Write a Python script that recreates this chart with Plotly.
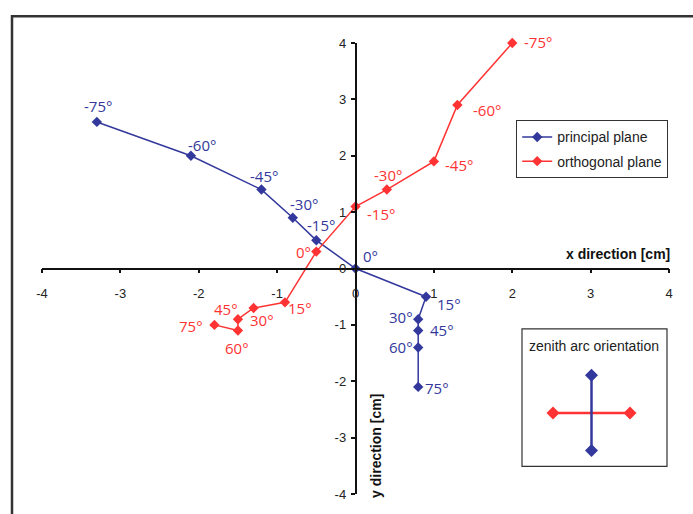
import plotly.graph_objects as go

# ---- data ----
angles = [-75, -60, -45, -30, -15, 0, 15, 30, 45, 60, 75]
principal_x = [-3.3, -2.1, -1.2, -0.8, -0.5, 0.0, 0.9, 0.8, 0.8, 0.8, 0.8]
principal_y = [2.6, 2.0, 1.4, 0.9, 0.5, 0.0, -0.5, -0.9, -1.1, -1.4, -2.1]
orthogonal_x = [2.0, 1.3, 1.0, 0.4, 0.0, -0.5, -0.9, -1.3, -1.5, -1.5, -1.8]
orthogonal_y = [4.0, 2.9, 1.9, 1.4, 1.1, 0.3, -0.6, -0.7, -0.9, -1.1, -1.0]
tick_vals = [-4, -3, -2, -1, 0, 1, 2, 3, 4]
tick_text = ["-4", "-3", "-2", "-1", "0", "1", "2", "3", "4"]
# inset (zenith arc orientation) cross
inset_principal_x = [0, 0]
inset_principal_y = [1, -1]
inset_orthogonal_x = [-1, 1]
inset_orthogonal_y = [0, 0]

# ---- label offsets (pixels) ----
principal_off = [(1, -16), (11, -11), (3, -14), (11, -14), (5, -15), (15, -13),
                 (23, 7), (-17, -2), (24, -1), (-17, 0), (19, 1)]
orthogonal_off = [(26, -1), (30, 5), (25, 4), (1, -15), (25, 8), (-13, 0),
                  (15, 6), (8, 12), (-12, -10), (-1, 17), (-23, 1)]

BLUE = "#33399C"
RED = "#FF3333"
LABEL_FONT = "Open Sans"
AXIS_FONT = "Liberation Sans, Arial, sans-serif"

fig = go.Figure()
fig.add_trace(go.Scatter(x=principal_x, y=principal_y, mode="lines+markers",
                         name="principal plane", legendgroup="a",
                         line=dict(color=BLUE, width=1.5),
                         marker=dict(symbol="diamond", size=8, color=BLUE),
                         cliponaxis=False))
fig.add_trace(go.Scatter(x=orthogonal_x, y=orthogonal_y, mode="lines+markers",
                         name="orthogonal plane", legendgroup="b",
                         line=dict(color=RED, width=1.5),
                         marker=dict(symbol="diamond", size=8, color=RED),
                         cliponaxis=False))
fig.add_trace(go.Scatter(x=inset_orthogonal_x, y=inset_orthogonal_y, mode="lines+markers",
                         xaxis="x2", yaxis="y2", showlegend=False,
                         line=dict(color=RED, width=2.5),
                         marker=dict(symbol="diamond", size=10, color=RED),
                         cliponaxis=False))
fig.add_trace(go.Scatter(x=inset_principal_x, y=inset_principal_y, mode="lines+markers",
                         xaxis="x2", yaxis="y2", showlegend=False,
                         line=dict(color=BLUE, width=2.5),
                         marker=dict(symbol="diamond", size=10, color=BLUE),
                         cliponaxis=False))

annotations = []
for xs, ys, offs, col in [(principal_x, principal_y, principal_off, BLUE),
                          (orthogonal_x, orthogonal_y, orthogonal_off, RED)]:
    for a, x, y, (dx, dy) in zip(angles, xs, ys, offs):
        annotations.append(dict(x=x, y=y, xref="x", yref="y", text=f"{a}°",
                                showarrow=False, xshift=dx, yshift=-dy,
                                font=dict(family=LABEL_FONT, size=15, color=col)))

annotations.append(dict(xref="paper", yref="paper", x=1.005, y=0.533,
                        xanchor="right", yanchor="middle", showarrow=False,
                        text="<b>x direction [cm]</b>",
                        font=dict(family=AXIS_FONT, size=14, color="#111")))
annotations.append(dict(xref="paper", yref="paper", x=0.533, y=0.107,
                        xanchor="center", yanchor="middle", showarrow=False,
                        textangle=-90, text="<b>y direction [cm]</b>",
                        font=dict(family=AXIS_FONT, size=14, color="#111")))
annotations.append(dict(xref="paper", yref="paper", x=(594 - 42) / 627, y=(499 - 349) / 456,
                        xanchor="center", yanchor="middle", showarrow=False,
                        text="zenith arc orientation",
                        font=dict(family=AXIS_FONT, size=14, color="#222")))

shapes = [
    # outer frame
    dict(type="rect", xref="paper", yref="paper",
         x0=(12 - 42) / 627, y0=-0.2, x1=1.2, y1=(499 - 16) / 456,
         line=dict(color="#333", width=2.5), layer="below"),
    # inset box
    dict(type="rect", xref="paper", yref="paper",
         x0=(522 - 42) / 627, y0=(499 - 471) / 456,
         x1=(667 - 42) / 627, y1=(499 - 332) / 456,
         line=dict(color="#333", width=1.2)),
]

axis_common = dict(range=[-4, 4], tickvals=tick_vals, ticktext=tick_text,
                   showgrid=False, zeroline=False, showline=True,
                   linecolor="#111", linewidth=1.5, ticks="outside", ticklen=4,
                   tickcolor="#111", tickwidth=1.5,
                   tickfont=dict(family=AXIS_FONT, size=13, color="#222"),
                   anchor="free", position=0.5, fixedrange=True, domain=[0, 1])

fig.update_layout(
    width=693, height=514,
    margin=dict(l=42, r=24, t=43, b=15),
    paper_bgcolor="white", plot_bgcolor="white",
    xaxis=dict(**axis_common, ticklabelstandoff=9),
    yaxis=dict(**axis_common, ticklabelstandoff=2),
    xaxis2=dict(domain=[(553 - 42) / 627, (630 - 42) / 627], range=[-1, 1],
                visible=False, anchor="y2"),
    yaxis2=dict(domain=[(499 - 455) / 456, (499 - 379) / 456], range=[-1, 1],
                visible=False, anchor="x2"),
    legend=dict(x=(516 - 42) / 627, y=(499 - 121) / 456, xanchor="left", yanchor="top",
                bordercolor="#333", borderwidth=1.2, bgcolor="white",
                font=dict(family=AXIS_FONT, size=14, color="#222"),
                tracegroupgap=3, traceorder="grouped"),
    annotations=annotations,
    shapes=shapes,
    showlegend=True,
)

fig.write_html("out.html")
